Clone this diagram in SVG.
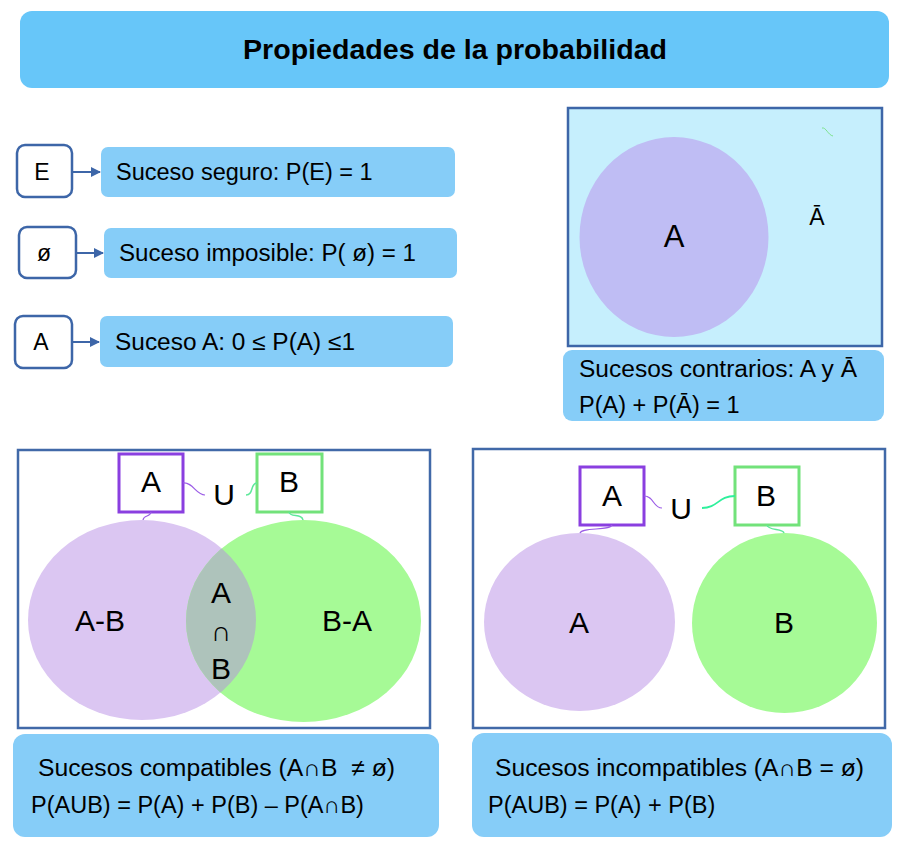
<svg xmlns="http://www.w3.org/2000/svg" width="914" height="850" viewBox="0 0 914 850">
<defs>
<style>
text{font-family:"Liberation Sans","Noto Sans",Arial,sans-serif;fill:#000}
.lbl{font-size:23.5px}
.cap{fill:#86cdf8}
.sym{fill:#fff;stroke:#3d66a8;stroke-width:2.5}
.frame{fill:#fff;stroke:#4169a8;stroke-width:2.5}
.big{font-size:30px;text-anchor:middle}
.pbox{fill:#fff;stroke:#8a3fe0;stroke-width:3}
.gbox{fill:#fff;stroke:#72e27a;stroke-width:3}
.pw{fill:none;stroke:#9b5ce6;stroke-width:1.2}
.gw{fill:none;stroke:#5ee89a;stroke-width:1.5}
.arr{stroke:#3d66a8;stroke-width:2;fill:none;marker-end:url(#ah)}
.s{font-size:23px;text-anchor:middle}
</style>
<marker id="ah" viewBox="0 0 10 10" refX="9" refY="5" markerWidth="5" markerHeight="5" orient="auto" markerUnits="strokeWidth">
<path d="M0,0 L10,5 L0,10 z" fill="#3d66a8"/>
</marker>
<clipPath id="clipB"><ellipse cx="303.5" cy="621" rx="117.5" ry="101"/></clipPath>
</defs>
<rect width="914" height="850" fill="#fff"/>

<g id="title">
<rect x="20" y="11" width="869" height="77" rx="12" fill="#67c6f9"/>
<text x="243" y="59" textLength="424" lengthAdjust="spacingAndGlyphs" style="font-size:27px;font-weight:bold">Propiedades de la probabilidad</text>
</g>

<g id="node-E">
<rect class="sym" x="17" y="145" width="55" height="52" rx="8"/>
<text class="s" x="42" y="180">E</text>
</g>
<g id="label-E">
<rect class="cap" x="101" y="147" width="354" height="50" rx="7"/>
<text class="lbl" x="116" y="180">Suceso seguro: P(E) = 1</text>
</g>

<g id="node-empty">
<rect class="sym" x="19" y="227" width="57" height="51" rx="8"/>
<text class="s" x="44" y="261">ø</text>
</g>
<g id="label-empty">
<rect class="cap" x="104" y="228" width="353" height="50" rx="7"/>
<text class="lbl" x="119" y="261" textLength="297" lengthAdjust="spacingAndGlyphs">Suceso imposible: P( ø) = 1</text>
</g>

<g id="node-A">
<rect class="sym" x="15" y="316" width="57" height="52" rx="8"/>
<text class="s" x="41" y="350">A</text>
</g>
<g id="label-A">
<rect class="cap" x="100" y="316" width="353" height="51" rx="7"/>
<text class="lbl" x="115" y="350" textLength="240" lengthAdjust="spacingAndGlyphs">Suceso A: 0 ≤ P(A) ≤1</text>
</g>

<g id="connectors">
<line class="arr" x1="72" y1="172" x2="100" y2="172"/>
<line class="arr" x1="76" y1="253" x2="103" y2="253"/>
<line class="arr" x1="72" y1="342" x2="99" y2="342"/>
</g>

<g id="contrarios">
<rect x="568" y="108" width="314" height="238" fill="#c6effd" stroke="#3d66a8" stroke-width="2.5"/>
<ellipse cx="674" cy="237" rx="94.5" ry="100" fill="#bfbdf4"/>
<text class="big" x="674" y="247" style="font-size:31px">A</text>
<text x="817" y="225" text-anchor="middle" style="font-size:23px">Ā</text>
<path d="M822,128 C826,127 828,135 833,136" fill="none" stroke="#7de38c" stroke-width="1"/>
</g>
<g id="caption-contrarios">
<rect class="cap" x="563" y="350" width="321" height="71" rx="9"/>
<text class="lbl" x="579" y="377" textLength="278" lengthAdjust="spacingAndGlyphs">Sucesos contrarios: A y Ā</text>
<text class="lbl" x="579" y="413">P(A) + P(Ā) = 1</text>
</g>

<g id="compatibles">
<rect class="frame" x="18" y="450" width="412" height="278"/>
<ellipse cx="142" cy="620" rx="114" ry="100" fill="#dbc6f2"/>
<ellipse cx="303.5" cy="621" rx="117.5" ry="101" fill="#a6fa96"/>
<ellipse cx="142" cy="620" rx="114" ry="100" fill="#aec3bb" clip-path="url(#clipB)"/>
<rect class="pbox" x="119" y="454" width="64" height="58"/>
<text class="big" x="151" y="492">A</text>
<rect class="gbox" x="257" y="454" width="65" height="58"/>
<text class="big" x="289" y="492">B</text>
<text x="224" y="505" text-anchor="middle" style="font-size:30px">U</text>
<path class="pw" d="M183,483 C193,482 196,495 205,495"/>
<path class="gw" d="M246,495 C254,495 250,483 257,483"/>
<path class="pw" d="M151,512 C150,518 144,514 143,520"/>
<path class="gw" d="M289,512 C290,518 302,513 303,520"/>
<text class="big" x="100" y="631">A-B</text>
<text class="big" x="347" y="631">B-A</text>
<text class="big" x="221" y="603">A</text>
<text x="221" y="641" text-anchor="middle" style="font-size:28px">∩</text>
<text class="big" x="221" y="679">B</text>
</g>
<g id="caption-compatibles">
<rect class="cap" x="13" y="734" width="426" height="103" rx="12"/>
<text class="lbl" x="38" y="776" style="white-space:pre" textLength="357" lengthAdjust="spacingAndGlyphs">Sucesos compatibles (A∩B  ≠ ø)</text>
<text class="lbl" x="31" y="813">P(AUB) = P(A) + P(B) – P(A∩B)</text>
</g>

<g id="incompatibles">
<rect class="frame" x="473" y="449" width="412" height="279"/>
<ellipse cx="579.5" cy="622" rx="95.5" ry="89" fill="#dbc6f2"/>
<ellipse cx="784.5" cy="623" rx="92.5" ry="90" fill="#a6fa96"/>
<rect class="pbox" x="580" y="467" width="64" height="58"/>
<text class="big" x="612" y="506">A</text>
<rect class="gbox" x="735" y="467" width="64" height="58"/>
<text class="big" x="766" y="506">B</text>
<text x="681" y="519" text-anchor="middle" style="font-size:30px">U</text>
<path class="pw" d="M644,496 C654,496 653,508 662,508"/>
<path d="M702,508 C718,508 718,496 735,496" fill="none" stroke="#2ef09c" stroke-width="1.8"/>
<path class="pw" d="M612,525 C610,531 582,527 580,533"/>
<path class="gw" d="M767,525 C768,531 783,528 784,533"/>
<text class="big" x="579" y="633">A</text>
<text class="big" x="784" y="633">B</text>
</g>
<g id="caption-incompatibles">
<rect class="cap" x="472" y="733" width="420" height="104" rx="12"/>
<text class="lbl" x="495" y="776" textLength="369" lengthAdjust="spacingAndGlyphs">Sucesos incompatibles (A∩B = ø)</text>
<text class="lbl" x="488" y="813">P(AUB) = P(A) + P(B)</text>
</g>
</svg>
